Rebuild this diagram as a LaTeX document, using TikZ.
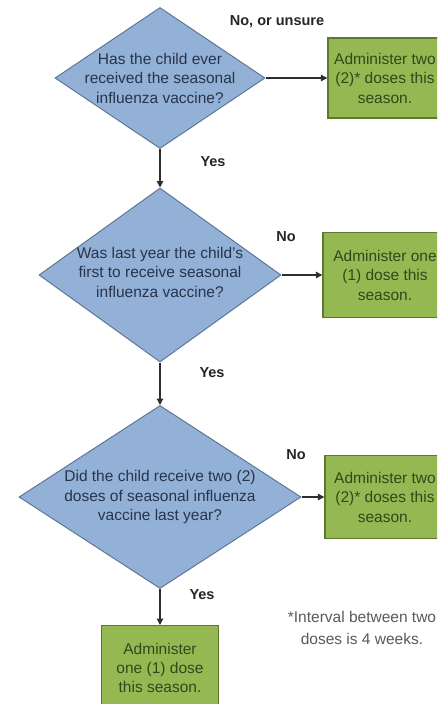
\documentclass[tikz,border=0pt]{standalone}
\usepackage{fontspec}
\setmainfont{Liberation Sans}
\usetikzlibrary{shapes.geometric,arrows.meta}
\definecolor{dfill}{HTML}{93B1D7}
\definecolor{ddraw}{HTML}{5E7796}
\definecolor{dtext}{HTML}{26344C}
\definecolor{bfill}{HTML}{95B853}
\definecolor{bdraw}{HTML}{5B7A30}
\definecolor{btext}{HTML}{30491A}
\definecolor{arrcol}{HTML}{2E2E2E}
\definecolor{notecol}{HTML}{5A5A5A}
\tikzset{
  decision/.style={diamond,draw=ddraw,fill=dfill,line width=1pt,inner sep=0pt},
  dtxt/.style={align=center,text=dtext,inner sep=0pt,font=\fontsize{15.5}{19.5}\selectfont},
  action/.style={rectangle,draw=bdraw,fill=bfill,line width=1.4pt,inner sep=0pt,align=center,text=btext,font=\fontsize{15.5}{19.5}\selectfont},
  btxt/.style={align=center,text=btext,inner sep=0pt,font=\fontsize{15.5}{19}\selectfont},
  arr/.style={draw=arrcol,line width=1.1pt,-{Triangle[width=6.5pt,length=6.5pt]}},
  lbl/.style={font=\bfseries\fontsize{14.5}{17}\selectfont,text=black!85,inner sep=0pt},
}
\begin{document}
\begin{tikzpicture}[x=1pt,y=-1pt]
\useasboundingbox (0,0) rectangle (437,704);
\clip (0,0) rectangle (437,704);
\fill[white] (0,0) rectangle (437,704);

% decisions
\node[decision,minimum width=210pt,minimum height=141pt] (d1) at (160,78) {};
\node[dtxt] (d1t) at (d1.center) {Has the child ever\\received the seasonal\\influenza vaccine?};
\node[decision,minimum width=242pt,minimum height=174pt] (d2) at (160,275) {};
\node[dtxt] (d2t) at ([yshift=3pt]d2.center) {Was last year the child's\\first to receive seasonal\\influenza vaccine?};
\node[decision,minimum width=282pt,minimum height=183pt] (d3) at (160,497) {};
\node[dtxt] (d3t) at (d3.center) {Did the child receive two (2)\\doses of seasonal influenza\\vaccine last year?};

% actions
\node[action,minimum width=114pt,minimum height=80pt] (b1) at (385,78) {Administer two\\(2)* doses this\\season.};
\node[action,minimum width=124pt,minimum height=85pt] (b2) at (385,275) {Administer one\\(1) dose this\\season.};
\node[action,minimum width=120pt,minimum height=83pt] (b3) at (385,497) {Administer two\\(2)* doses this\\season.};
\node[action,minimum width=117pt,minimum height=100pt,anchor=north] (b4) at (160,625) {};
\node[btxt] (b4t) at (160,668) {Administer\\one (1) dose\\this season.};

% connectors
\draw[arr] (d1.east) -- (b1.west);
\draw[arr] (d2.east) -- (b2.west);
\draw[arr] (d3.east) -- (b3.west);
\draw[arr] (d1.south) -- (d2.north);
\draw[arr] (d2.south) -- (d3.north);
\draw[arr] (d3.south) -- (b4.north);

% labels
\node[lbl] (l1) at (277,22) {No, or unsure};
\node[lbl] (l2) at (213,162) {Yes};
\node[lbl] (l3) at (286,237) {No};
\node[lbl] (l4) at (212,373) {Yes};
\node[lbl] (l5) at (296,455) {No};
\node[lbl] (l6) at (202,595) {Yes};

% note
\node[align=center,text=notecol,inner sep=0pt,font=\fontsize{15.5}{21.5}\selectfont] (note) at (362,628) {*Interval between two\\doses is 4 weeks.};
\end{tikzpicture}
\end{document}
